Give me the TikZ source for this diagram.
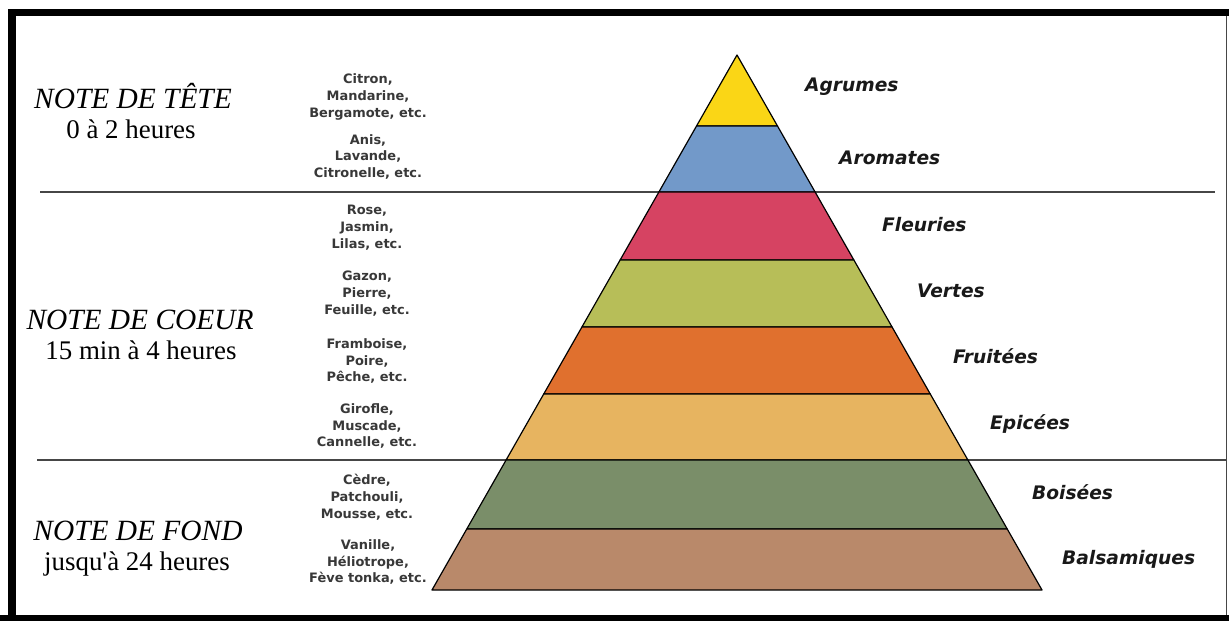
\documentclass[tikz,border=0pt]{standalone}
\usepackage{fontspec}
\setmainfont{Liberation Serif}
\newfontfamily\plainserif{Liberation Serif}
\newfontfamily\exfont{DejaVu Sans}
\newfontfamily\labfont{DejaVu Sans}
\usetikzlibrary{calc}

\definecolor{lyellow}{RGB}{250,214,22}
\definecolor{lblue}{RGB}{114,153,201}
\definecolor{lred}{RGB}{214,67,98}
\definecolor{lolive}{RGB}{183,190,88}
\definecolor{lorange}{RGB}{224,112,46}
\definecolor{ltan}{RGB}{231,180,96}
\definecolor{ldkgreen}{RGB}{122,142,105}
\definecolor{lbrown}{RGB}{185,137,106}
\definecolor{sepgray}{RGB}{70,70,70}

\tikzset{
  notetitle/.style={anchor=base, inner sep=0pt, font=\fontsize{29.5}{32}\selectfont\itshape},
  notetime/.style={anchor=base, inner sep=0pt, font=\plainserif\fontsize{27}{30}\selectfont},
  examples/.style={align=center, inner sep=0pt, text=black!78,
    font=\exfont\bfseries\fontsize{13}{17}\selectfont},
  family/.style={anchor=base west, inner sep=0pt, text=black!90,
    font=\labfont\bfseries\itshape\fontsize{18.7}{22}\selectfont},
  layer/.style={draw=black, line width=1.2pt, line join=round},
  separator/.style={draw=sepgray, line width=1.4pt},
}

\begin{document}
\begin{tikzpicture}[x=1bp, y=-1bp]
\useasboundingbox (0,0) rectangle (1229,621);
\fill[white] (0,0) rectangle (1229,621);

% frame
\fill[black] (9,9) rectangle (1229,16);
\fill[black] (8,9) rectangle (16,621);
\fill[black] (0,615) rectangle (1229,621);
\draw[sepgray, line width=1.5pt] (1226.5,16) -- (1226.5,615);

% separators between the three note groups
\coordinate (s1a) at (40,192);
\coordinate (s1b) at (1215,192);
\coordinate (s2a) at (37,460);
\coordinate (s2b) at (1226,460);
\draw[separator] (s1a) -- (s1b);
\draw[separator] (s2a) -- (s2b);

% pyramid, layer by layer (half width grows 0.5701 per unit of height)
\coordinate (apex) at (737,55);
\foreach \ytop/\ybot/\col in {55/126/lyellow, 126/192/lblue, 192/260/lred,
    260/327/lolive, 327/394/lorange, 394/460/ltan, 460/529/ldkgreen, 529/590/lbrown} {
  \pgfmathsetmacro\wt{0.5701*(\ytop-55)}
  \pgfmathsetmacro\wb{0.5701*(\ybot-55)}
  \filldraw[layer, fill=\col] ({737-\wt},\ytop) -- ({737+\wt},\ytop)
    -- ({737+\wb},\ybot) -- ({737-\wb},\ybot) -- cycle;
}

% note groups
\node[notetitle] (tete) at (133,109) {NOTE DE TÊTE};
\node[notetime] (tetet) at (131,139) {0 à 2 heures};
\node[notetitle] (coeur) at (140,330) {NOTE DE COEUR};
\node[notetime] (coeurt) at (141,360) {15 min à 4 heures};
\node[notetitle] (fond) at (138,540) {NOTE DE FOND};
\node[notetime] (fondt) at (137,570) {jusqu'à 24 heures};

% examples
\node[examples] (ex1) at (368,97) {Citron,\\Mandarine,\\Bergamote, etc.};
\node[examples] (ex2) at (368,157) {Anis,\\Lavande,\\Citronelle, etc.};
\node[examples] (ex3) at (367,228) {Rose,\\Jasmin,\\Lilas, etc.};
\node[examples] (ex4) at (367,294) {Gazon,\\Pierre,\\Feuille, etc.};
\node[examples] (ex5) at (367,361) {Framboise,\\Poire,\\Pêche, etc.};
\node[examples] (ex6) at (367,426) {Girofle,\\Muscade,\\Cannelle, etc.};
\node[examples] (ex7) at (367,497) {Cèdre,\\Patchouli,\\Mousse, etc.};
\node[examples] (ex8) at (368,562) {Vanille,\\Héliotrope,\\Fève tonka, etc.};

% families
\node[family] (f1) at (805,92) {Agrumes};
\node[family] (f2) at (839,165) {Aromates};
\node[family] (f3) at (882,232) {Fleuries};
\node[family] (f4) at (917,298) {Vertes};
\node[family] (f5) at (953,364) {Fruitées};
\node[family] (f6) at (990,429) {Epicées};
\node[family] (f7) at (1032,499) {Boisées};
\node[family] (f8) at (1062,564) {Balsamiques};
\end{tikzpicture}
\end{document}
